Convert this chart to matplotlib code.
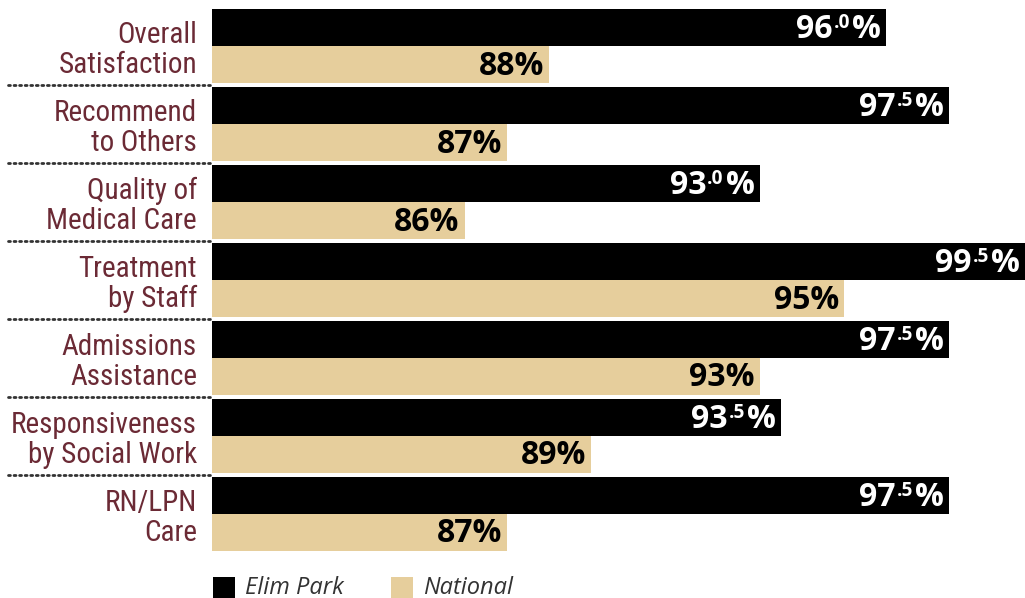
import matplotlib
matplotlib.use("Agg")
import matplotlib.pyplot as plt
from matplotlib import font_manager
from matplotlib.transforms import blended_transform_factory
from matplotlib.patches import Rectangle

categories = [
    ("Overall", "Satisfaction"),
    ("Recommend", "to Others"),
    ("Quality of", "Medical Care"),
    ("Treatment", "by Staff"),
    ("Admissions", "Assistance"),
    ("Responsiveness", "by Social Work"),
    ("RN/LPN", "Care"),
]
elim_park = [96.0, 97.5, 93.0, 99.5, 97.5, 93.5, 97.5]
national = [88, 87, 86, 95, 93, 89, 87]
series_names = ["Elim Park", "National"]

BLACK = "#000000"
TAN = "#E6CE9C"
MAROON = "#6B2A35"

avail = {f.name for f in font_manager.fontManager.ttflist}
label_font = "Roboto"
label_size = 19.5
for cand, sz in [("Roboto Condensed", 21), ("Liberation Sans Narrow", 21.5), ("Open Sans Condensed", 21)]:
    if cand in avail:
        label_font, label_size = cand, sz
        break
value_font = "Open Sans" if "Open Sans" in avail else "DejaVu Sans"
legend_font = "Open Sans" if "Open Sans" in avail else "DejaVu Sans"

W, H = 1025, 598
fig = plt.figure(figsize=(W / 100, H / 100), dpi=100)

ax_left = 212 / W
ax_top_px = 9
ax_bot_px = 551
ax = fig.add_axes([ax_left, (H - ax_bot_px) / H, 1 - ax_left, (ax_bot_px - ax_top_px) / H])

pitch = 78.0
bh = 37 / pitch
n = len(categories)
xmin, xmax = 80, 99.3

for i in range(n):
    ax.barh(i + bh / 2, elim_park[i] - xmin, left=xmin, height=bh, color=BLACK, linewidth=0)
    ax.barh(i + bh * 1.5, national[i] - xmin, left=xmin, height=bh, color=TAN, linewidth=0)

ax.set_xlim(xmin, xmax)
ymax = (n - 1) + 2 * bh
ax.set_ylim(ymax, 0)
ax.axis("off")

renderer = fig.canvas.get_renderer()
VS = 23.0           # value font size (pt)
SS = VS * 0.6       # superscript size
pad_px = 5
base_off = 28.5 / pitch  # baseline offset from bar top (data units)
digit_h = 0.714
sup_raise = digit_h * (VS - SS) * 100 / 72 / pitch  # data units


def px_to_x(px):
    inv = ax.transData.inverted()
    return inv.transform((px, 0))[0]


vkw = dict(fontweight="bold", family=value_font, clip_on=False)
for i in range(n):
    v = elim_park[i]
    whole, dec = f"{v:.1f}".split(".")
    end_px = ax.transData.transform((min(v, xmax), 0))[0] - pad_px
    ybase = i + base_off
    t_pct = ax.text(px_to_x(end_px), ybase, "%", ha="right", va="baseline", color="white",
                    fontsize=VS, **vkw)
    bb = t_pct.get_window_extent(renderer)
    t_dec = ax.text(px_to_x(bb.x0 - 2), ybase - sup_raise, "." + dec, ha="right", va="baseline",
                    color="white", fontsize=SS, **vkw)
    bb2 = t_dec.get_window_extent(renderer)
    ax.text(px_to_x(bb2.x0 - 1), ybase, whole, ha="right", va="baseline", color="white",
            fontsize=VS, **vkw)

    nv = national[i]
    end_px2 = ax.transData.transform((nv, 0))[0] - pad_px
    ax.text(px_to_x(end_px2), i + bh + base_off, f"{nv}%", ha="right", va="baseline",
            color="black", fontsize=VS, **vkw)

# category labels and dotted separators
bt = blended_transform_factory(fig.transFigure, ax.transData)
for i, (l1, l2) in enumerate(categories):
    ax.text(197 / W, i + 34 / pitch, l1, ha="right", va="baseline", color=MAROON,
            fontsize=label_size, fontweight="normal", family=label_font, transform=bt, clip_on=False)
    ax.text(197 / W, i + 64 / pitch, l2, ha="right", va="baseline", color=MAROON,
            fontsize=label_size, fontweight="normal", family=label_font, transform=bt, clip_on=False)
    if i < n - 1:
        ysep = i + 76 / pitch
        ax.plot([8 / W, 212 / W], [ysep, ysep], transform=bt, clip_on=False,
                color="#333333", linewidth=2, linestyle=(0, (0.7, 1.3)),
                dash_capstyle="round")

# legend
sq = 22
for (x0, tx), name, col in zip([(213, 245), (391, 423)], series_names, [BLACK, TAN]):
    fig.patches.append(Rectangle((x0 / W, (H - 599) / H), sq / W, sq / H,
                                 transform=fig.transFigure, color=col, linewidth=0))
    fig.text(tx / W, (H - 594) / H, name, ha="left", va="baseline", fontsize=17,
             style="italic", color="#333333", family=legend_font)

fig.savefig("out.png", dpi=100)
